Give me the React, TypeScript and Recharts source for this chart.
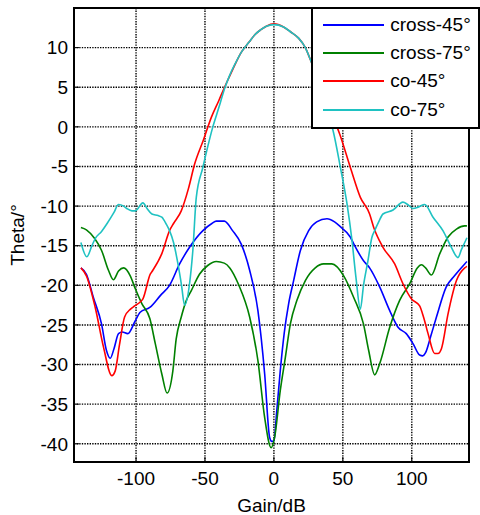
import React from 'react'
import {
  LineChart,
  Line,
  XAxis,
  YAxis,
  CartesianGrid,
  Legend,
  ReferenceArea,
} from 'recharts'

// axis setup
const xTicks = [-100, -50, 0, 50, 100]
const yTicks = [-40, -35, -30, -25, -20, -15, -10, -5, 0, 5, 10]
const xDomain = [-145, 141.5]
const yDomain = [-42.3, 15]

// cross-45° (blue)
const cross45X = [
  -140, -136, -131, -125, -121.5, -118.7, -116, -112.7, -110, -106, -100.6, -97, -90, -82.4,
  -75.7, -68.4, -61.2, -51.5, -45, -41.8, -36, -30, -23.7, -17.6, -11.6, -6.7, -3.1, -1.5, 0,
  2, 4.6, 7.5, 10.7, 14.3, 19.2, 25.2, 31, 38.5, 44, 48.2, 55.4, 58, 65, 69.4, 76.7, 84, 90,
  96, 101, 105.7, 108, 110, 113.8, 117.9, 125, 131, 138.4, 140,
]
const cross45Y = [
  -17.8, -18.6, -21.5, -24.9, -28.2, -29.2, -28, -26.1, -25.9, -26.1, -24.5, -23.4, -22.8, -21.3,
  -20, -17.3, -15.2, -13.1, -12.2, -11.9, -11.9, -13.1, -14.8, -18.1, -23.2, -31.2, -39.2, -39.7,
  -39.6, -36, -30.8, -26, -22.3, -19.4, -15.6, -13.1, -12, -11.6, -12, -12.6, -13.9, -14.8, -16.9,
  -17.8, -20.2, -23.2, -25.3, -26.1, -27.4, -28.8, -28.9, -28.5, -26.4, -24, -20.2, -18.8, -17.3,
  -17,
]

// cross-75° (green)
const cross75X = [
  -140, -136, -130, -125, -120, -116.4, -112.7, -109, -104.2, -100.6, -95.8, -90, -86, -81.3,
  -77.5, -73.3, -70.9, -67.2, -63.5, -60, -54, -48, -41.8, -36, -32, -25.4, -17.6, -11.6, -6.7,
  -2, 0.5, 4.6, 8.3, 11.9, 16.7, 22.8, 30, 36, 42, 50.6, 57.8, 65, 68.7, 73.1, 76.7, 84, 91.2,
  98.5, 104, 107, 110, 114.2, 120.3, 126.3, 132.4, 138.4, 140,
]
const cross75Y = [
  -12.7, -13, -14.1, -15.6, -18.1, -19.3, -18.2, -17.8, -18.8, -20.4, -22.3, -24.2, -27.4, -31.2,
  -33.6, -30.8, -26.8, -24, -21.9, -20.7, -18.6, -17.5, -17, -17.2, -17.8, -20, -24, -29.5, -36.7,
  -40.5, -39.2, -33.3, -29.1, -24.9, -21.9, -19.4, -17.8, -17.3, -17.3, -18.8, -21.5, -24.9, -28.2,
  -31.3, -29.9, -25.3, -21.9, -19.8, -17.8, -17.4, -17.8, -18.7, -16, -13.9, -12.9, -12.5, -12.5,
]

// co-45° (red)
const co45X = [
  -140, -136, -129.6, -123.6, -117.6, -115.1, -112, -108.3, -104, -101, -97, -95, -89.7, -87.8,
  -81.3, -75.7, -72.8, -67.2, -62, -57.5, -51, -45.4, -40, -35.8, -30, -23.7, -18, -14, -10, -5.5,
  0, 7, 12, 17.9, 22.8, 26.4, 32, 38, 43, 47.7, 55.4, 62.7, 69.4, 72.4, 79.1, 87.6, 93.6, 99.7,
  105.7, 108.5, 111.8, 116.6, 119, 121.5, 126.3, 132.4, 138.4, 140,
]
const co45Y = [
  -17.8, -18.8, -22.8, -27.8, -31.4, -30.8, -27.5, -24, -23, -22.6, -22.1, -21.7, -18.6, -18.1,
  -16, -13.1, -12.2, -10.6, -7.8, -4.7, -1.6, 1.2, 3.3, 5, 7.2, 9.4, 10.7, 11.6, 12.2, 12.7, 13,
  12.6, 12, 11.2, 10, 8.5, 6, 3.3, 1.2, -0.9, -5.1, -8.9, -11, -12.7, -15.2, -17.3, -19.8, -21.7,
  -22.6, -24, -26.1, -28.6, -28.6, -28, -23.6, -19.4, -17.8, -17.6,
]

// co-75° (cyan)
const co75X = [
  -140, -135.7, -132, -129.6, -125, -121, -116, -112.7, -109, -106.7, -103, -100.6, -95, -92,
  -88.5, -84, -81.3, -78, -75.7, -72.8, -69.6, -67, -64.8, -61.2, -58.8, -56.3, -51.5, -48, -44.3,
  -40, -35.8, -32.1, -28, -23.7, -18, -14, -10, -5.5, 0, 7, 12, 17.9, 22.8, 26.4, 32, 38, 42.8,
  48.2, 53, 56.6, 59.5, 62.7, 65, 68.2, 71, 73.1, 76, 79.1, 86.4, 93.6, 97, 100.9, 105, 109.4,
  115.4, 122.6, 128.7, 133.5, 136, 138.4, 140,
]
const co75Y = [
  -14.6, -16.4, -15, -14.1, -13.2, -12.2, -10.8, -9.8, -10, -10.3, -10.6, -10.6, -9.6, -10.3, -11,
  -11.2, -11.4, -12.3, -13.1, -14.6, -17.3, -20, -22.5, -19.8, -15.6, -8.9, -5.1, -2.5, 0, 2.4,
  4.8, 6.5, 8, 9.4, 10.7, 11.6, 12.2, 12.7, 12.9, 12.6, 12, 11.2, 10, 8.5, 5.8, 2.2, -0.4, -5.1,
  -9.7, -14.3, -19, -23, -20, -16.9, -14, -13.1, -12, -11, -10.5, -9.5, -9.8, -10.3, -10.1, -9.8,
  -11.4, -13.1, -15.2, -16.5, -15.5, -14.6, -14,
]

const toPoints = (xs: number[], ys: number[]) => xs.map((x, i) => ({ x, y: ys[i] }))

const SERIES = [
  { name: 'cross-45°', color: '#0000ff', data: toPoints(cross45X, cross45Y) },
  { name: 'cross-75°', color: '#008000', data: toPoints(cross75X, cross75Y) },
  { name: 'co-45°', color: '#ff0000', data: toPoints(co45X, co45Y) },
  { name: 'co-75°', color: '#1fc2c2', data: toPoints(co75X, co75Y) },
]

const FONT = '"Liberation Sans", Arial, sans-serif'
const FONT_SIZE = 19
const X_MARGIN = 10
const Y_MARGIN = 6

// MATLAB style: label plus a short tick pointing into the plot
const XTick = (props: any) => {
  const { x, y, payload } = props
  const axisY = y - X_MARGIN
  return (
    <g>
      <line x1={x} x2={x} y1={axisY} y2={axisY - 5} stroke="#000" strokeWidth={1} />
      <text
        x={x}
        y={y}
        dy="0.71em"
        textAnchor="middle"
        fill="#000"
        fontSize={FONT_SIZE}
        fontFamily={FONT}
      >
        {payload.value}
      </text>
    </g>
  )
}

const YTick = (props: any) => {
  const { x, y, payload } = props
  const axisX = x + Y_MARGIN
  return (
    <g>
      <line x1={axisX} x2={axisX + 5} y1={y} y2={y} stroke="#000" strokeWidth={1} />
      <text
        x={x}
        y={y}
        dy="0.355em"
        textAnchor="end"
        fill="#000"
        fontSize={FONT_SIZE}
        fontFamily={FONT}
      >
        {payload.value}
      </text>
    </g>
  )
}

const LegendBox = () => (
  <div
    style={{
      boxSizing: 'border-box',
      width: 169,
      height: 122,
      border: '2px solid #000',
      background: '#fff',
      paddingTop: 1.5,
      fontFamily: FONT,
      fontSize: FONT_SIZE,
      color: '#000',
    }}
  >
    {SERIES.map((s) => (
      <div
        key={s.name}
        style={{ display: 'flex', alignItems: 'center', height: 28.3 }}
      >
        <svg width={61} height={4} style={{ marginLeft: 10.3, display: 'block' }}>
          <line x1={0} y1={2} x2={61} y2={2} stroke={s.color} strokeWidth={1.8} />
        </svg>
        <span style={{ marginLeft: 6, whiteSpace: 'nowrap' }}>{s.name}</span>
      </div>
    ))}
  </div>
)

export default function App() {
  return (
    <div
      style={{
        position: 'absolute',
        left: 0,
        top: 0,
        width: 480,
        height: 515,
        background: '#fff',
        fontFamily: FONT,
      }}
    >
      <LineChart
        width={480}
        height={515}
        margin={{ top: 8, right: 11, bottom: 0, left: 0 }}
      >
        <CartesianGrid stroke="#000" strokeDasharray="1.4 1.2" strokeWidth={1.4} />
        <XAxis
          dataKey="x"
          type="number"
          domain={xDomain}
          ticks={xTicks}
          allowDataOverflow
          height={53}
          axisLine={false}
          tickLine={false}
          tickSize={0}
          tickMargin={X_MARGIN}
          tick={<XTick />}
          label={{
            value: 'Gain/dB',
            position: 'insideBottom',
            offset: 3,
            fill: '#000',
            fontSize: FONT_SIZE,
            fontFamily: FONT,
          }}
        />
        <YAxis
          type="number"
          domain={yDomain}
          ticks={yTicks}
          allowDataOverflow
          width={74}
          axisLine={false}
          tickLine={false}
          tickSize={0}
          tickMargin={Y_MARGIN}
          tick={<YTick />}
          label={{
            value: 'Theta/°',
            angle: -90,
            position: 'insideLeft',
            offset: 17,
            fill: '#000',
            fontSize: FONT_SIZE,
            fontFamily: FONT,
            style: { textAnchor: 'middle' },
          }}
        />
        <ReferenceArea
          x1={xDomain[0]}
          x2={xDomain[1]}
          y1={yDomain[0]}
          y2={yDomain[1]}
          fill="none"
          stroke="#000"
          strokeWidth={2}
          ifOverflow="visible"
        />
        {SERIES.map((s) => (
          <Line
            key={s.name}
            data={s.data}
            dataKey="y"
            name={s.name}
            type="monotone"
            stroke={s.color}
            strokeWidth={1.6}
            dot={false}
            isAnimationActive={false}
          />
        ))}
        <Legend
          layout="vertical"
          align="center"
          verticalAlign="middle"
          wrapperStyle={{ left: 311, top: 7, width: 169, height: 122 }}
          content={() => <LegendBox />}
        />
      </LineChart>
    </div>
  )
}
